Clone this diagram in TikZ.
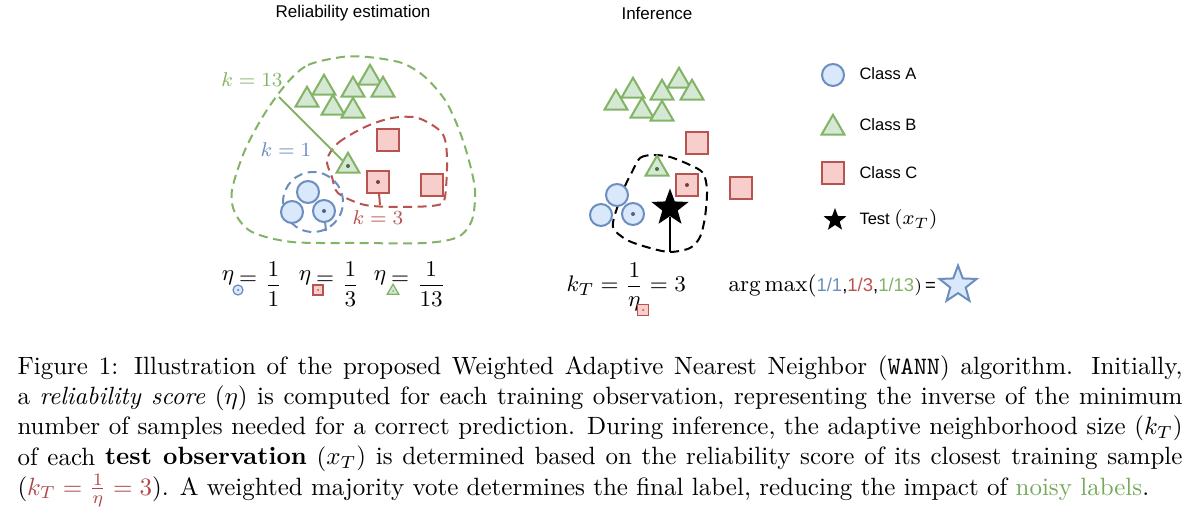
\documentclass[tikz,border=0pt]{standalone}
\usepackage{fontspec}
\usepackage{amsmath}
\usetikzlibrary{shapes.geometric}
\newfontfamily\labelfont{Liberation Sans}
\definecolor{fillA}{HTML}{DAE8FC}
\definecolor{lineA}{HTML}{6C8EBF}
\definecolor{fillB}{HTML}{D5E8D4}
\definecolor{lineB}{HTML}{82B366}
\definecolor{fillC}{HTML}{F8CECC}
\definecolor{lineC}{HTML}{B85450}
\definecolor{capRed}{HTML}{B04848}
\definecolor{capGreen}{HTML}{74A85A}

\begin{document}
\begin{tikzpicture}[x=0.4pt,y=-0.4pt,
  ptA/.style={circle,draw=lineA,fill=fillA,line width=0.8pt,minimum size=8.8pt,inner sep=0pt},
  ptB/.style={regular polygon,regular polygon sides=3,draw=lineB,fill=fillB,line width=0.8pt,minimum size=10.6pt,inner sep=0pt},
  ptC/.style={rectangle,draw=lineC,fill=fillC,line width=0.8pt,minimum size=8.8pt,inner sep=0pt},
  ptT/.style={star,star points=5,star point ratio=2.4,fill=black,minimum size=15.6pt,inner sep=0pt},
  hood/.style={line width=0.8pt,dash pattern=on 3.6pt off 2.2pt},
  title/.style={font=\labelfont\fontsize{6.8}{8}\selectfont,inner sep=0pt},
  legtext/.style={font=\labelfont\fontsize{6.6}{8}\selectfont,anchor=west,inner sep=0pt},
  klabel/.style={font=\fontsize{8}{10}\selectfont,inner sep=0pt},
  eqn/.style={font=\fontsize{9.5}{11}\selectfont,inner sep=0pt}]
\useasboundingbox (0,0) rectangle (1200,512);

\node[title] (titleRel) at (353,13) {Reliability estimation};
\node[title] (titleInf) at (657,13) {Inference};

\draw[hood,lineB] plot[smooth cycle] coordinates {(287,83) (308,65) (342,57) (368,57) (402,63) (425,77) (445,100) (458,127) (468,157) (475,190) (472,220) (458,237) (425,243) (358,243) (292,242) (252,232) (235,213) (232,190) (245,150) (265,113)};
\draw[hood,lineC] plot[smooth cycle] coordinates {(327,160) (338,143) (365,127) (392,118) (418,118) (442,133) (447,157) (445,197) (438,205) (405,207) (365,205) (338,193) (332,177)};
\draw[hood,lineA] (313,202) circle (12pt);
\draw[hood,black] plot[smooth cycle] coordinates {(632,172) (640,158) (653,155) (670,157) (690,165) (703,173) (707,190) (705,217) (700,237) (690,248) (670,252) (650,248) (627,240) (613,227) (618,205) (625,186)};

\foreach \p/\dx/\dy in {L/0/0,R/309/3} {
  \begin{scope}[shift={(\dx,\dy)}]
    \foreach \i/\x/\y in {1/307/100,2/324/88,3/333/108,4/353/90,5/370/78,6/383/90,7/353/111,8/348/166}
      \node[ptB] (tri\p\i) at (\x,\y) {};
    \foreach \i/\x/\y in {1/388/140,2/378/182,3/432/185}
      \node[ptC] (sq\p\i) at (\x,\y) {};
    \foreach \i/\x/\y in {1/308/192,2/292/212,3/324/211}
      \node[ptA] (cir\p\i) at (\x,\y) {};
    \fill[lineB!60!black] (tri\p8) circle (0.8pt);
    \fill[lineC!70!black] (sq\p2) circle (0.8pt);
    \fill[lineA!70!black] (cir\p3) circle (0.8pt);
  \end{scope}
}

\node[ptT] (test) at (670,208) {};

\node[klabel,text=lineB] (kB) at (252,80) {$k=13$};
\node[klabel,text=lineA] (kA) at (286,150) {$k=1$};
\node[klabel,text=lineC] (kC) at (378,218) {$k=3$};
\coordinate (kBend) at (279,97);
\coordinate (kAend) at (326,231);
\coordinate (kCend) at (380,205);
\coordinate (kTend) at (670,252);
\draw[lineB,line width=0.8pt] (kBend) -- (triL8);
\draw[lineA,line width=0.8pt] (cirL3) -- (kAend);
\draw[lineC,line width=0.8pt] (sqL2) -- (kCend);
\draw[black,line width=0.8pt] (test) -- (kTend);

\foreach \n/\x/\d in {A/228/1,B/305/3,C/380/13} {
  \node[eqn] (eta\n) at (\x,278) {$\eta$};
  \node[eqn] (eq\n) at (\x+20,280) {$=$};
  \node[eqn,anchor=west] (frac\n) at (\x+36,284) {$\dfrac{1}{\d}$};
}
\node[ptA,minimum size=4pt,line width=0.5pt] (symA) at (238,290) {};
\fill[lineA] (symA) circle (0.5pt);
\node[ptC,minimum size=4pt,line width=0.5pt] (symC) at (318,290) {};
\fill[lineC] (symC) circle (0.4pt);
\node[ptB,minimum size=5.4pt,line width=0.5pt] (symB) at (393,291) {};
\fill[lineB] (symB) circle (0.4pt);

\node[eqn,anchor=west] (kT) at (566,287) {$k_T=\dfrac{1}{\eta}=3$};
\node[ptC,minimum size=4.4pt,line width=0.5pt] (symT) at (643,310) {};
\fill[lineC] (symT) circle (0.4pt);
\node[eqn,font=\fontsize{9}{11}\selectfont,anchor=west] (vote) at (728,286) {$\arg\max($\labelfont\fontsize{7.4}{9}\selectfont\textcolor{lineA}{1/1},\textcolor{lineC}{1/3},\textcolor{lineB}{1/13}$)$\,\labelfont\fontsize{7.4}{9}\selectfont=};
\node[ptT,draw=lineA,fill=fillA,line width=0.8pt] (winner) at (958,285) {};

\node[ptA] (legA) at (833,75) {};
\node[ptB] (legB) at (833,128) {};
\node[ptC] (legC) at (833,173) {};
\node[ptT,minimum size=9.6pt] (legT) at (835,220) {};
\node[legtext] (legAtxt) at (859,74) {Class A};
\node[legtext] (legBtxt) at (859,125) {Class B};
\node[legtext] (legCtxt) at (859,173) {Class C};
\node[legtext] (legTtxt) at (859,220) {Test {\fontsize{8.5}{10}\selectfont$(x_T)$}};

\node[anchor=base west,text width=466pt,align=justify,inner sep=0pt] (caption) at (17,375) {Figure 1: Illustration of the proposed Weighted Adaptive Nearest Neighbor (\texttt{WANN}) algorithm. Initially,\linebreak
a \emph{reliability score} ($\eta$) is computed for each training observation, representing the inverse of the minimum\linebreak
number of samples needed for a correct prediction. During inference, the adaptive neighborhood size ($k_T$)\linebreak
of each \textbf{test observation} ($x_T$) is determined based on the reliability score of its closest training sample\linebreak
(\textcolor{capRed}{$k_T=\frac{1}{\eta}=3$}). A weighted majority vote determines the final label, reducing the impact of \textcolor{capGreen}{noisy labels}.};
\end{tikzpicture}
\end{document}
